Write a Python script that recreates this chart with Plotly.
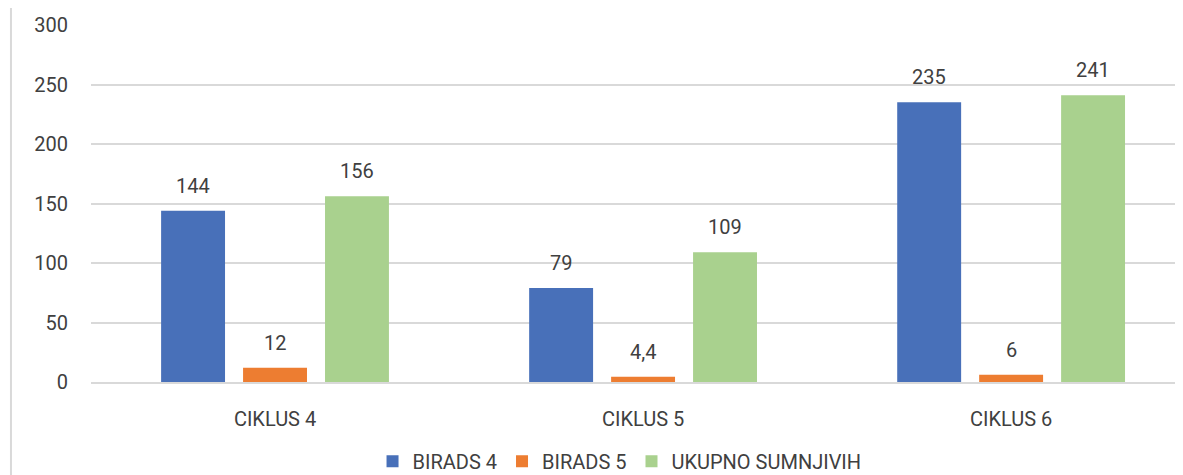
import plotly.graph_objects as go

categories = ["CIKLUS 4", "CIKLUS 5", "CIKLUS 6"]
series_names = ["BIRADS 4", "BIRADS 5", "UKUPNO SUMNJIVIH"]
birads4 = [144, 79, 235]
birads5 = [12, 4.4, 6]
ukupno = [156, 109, 241]
y_ticks = [0, 50, 100, 150, 200, 250, 300]

colors = ["#4870B9", "#ED7D31", "#A9D18E"]
series_values = [birads4, birads5, ukupno]
font_family = "Roboto"
text_color = "#404040"

fig = go.Figure()
for name, vals, col in zip(series_names, series_values, colors):
    fig.add_trace(go.Bar(
        name=name, x=categories, y=vals,
        marker=dict(color=col, line=dict(width=0)),
        hoverinfo="x+y",
    ))

# data labels
offsets = [-82, 0, 82]
for vals, off in zip(series_values, offsets):
    for c, v in zip(categories, vals):
        fig.add_annotation(
            x=c, y=v, xref="x", yref="y", text=str(v).replace(".", ","),
            showarrow=False, xshift=off, yshift=25, yanchor="middle",
            font=dict(family=font_family, size=20, color=text_color),
        )

# left frame line
fig.add_shape(type="line", xref="paper", yref="paper",
              x0=-0.0733, x1=-0.0733, y0=-0.3, y1=1.1,
              line=dict(color="#d9d9d9", width=2))

fig.update_layout(
    width=1175, height=467,
    margin=dict(l=83, r=0, t=17, b=93, autoexpand=False),
    paper_bgcolor="white", plot_bgcolor="white",
    barmode="group", bargap=0.332, bargroupgap=0.22,
    font=dict(family=font_family, size=20, color=text_color),
    showlegend=True,
    legend=dict(orientation="h", x=0.484, xanchor="center", y=-0.222, yanchor="middle",
                font=dict(family=font_family, size=20, color=text_color),
                itemclick=False),
    xaxis=dict(range=[-0.5, 2.467], showgrid=False, showline=True, automargin=False,
               linecolor="#d9d9d9", linewidth=1.5,
               ticks="outside", ticklen=18, tickcolor="rgba(0,0,0,0)",
               tickfont=dict(family=font_family, size=20, color=text_color)),
    yaxis=dict(range=[0, 300], tickvals=y_ticks, showgrid=True, automargin=False,
               gridcolor="#d9d9d9", gridwidth=1.5, zeroline=False,
               ticklabelstandoff=22,
               tickfont=dict(family=font_family, size=20, color=text_color)),
)

fig.write_html("out.html")
